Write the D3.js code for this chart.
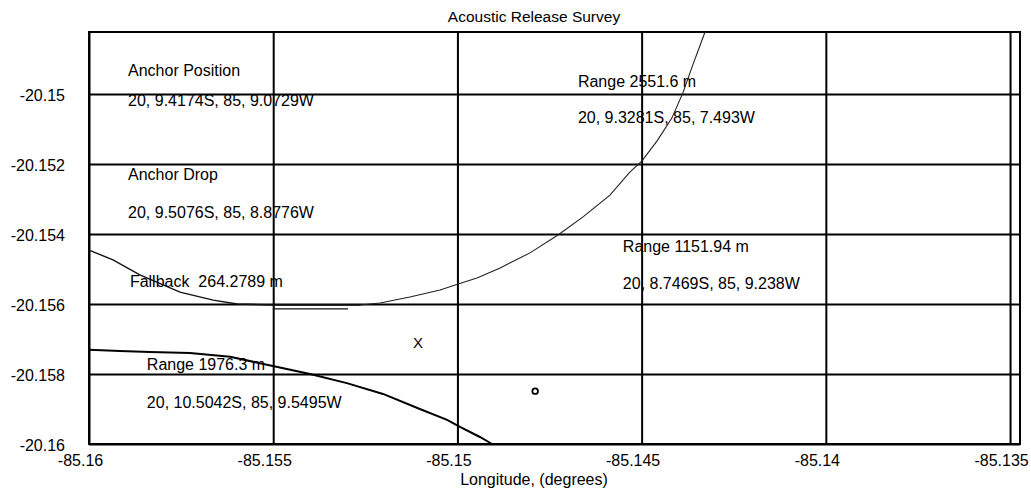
<!DOCTYPE html>
<html>
<head>
<meta charset="utf-8">
<script src="https://cdn.jsdelivr.net/npm/d3@7"></script>
<style>
  html, body { margin: 0; padding: 0; background: #fff; }
  svg { display: block; font-family: "Liberation Sans", Arial, Helvetica, sans-serif; }
</style>
</head>
<body>
<div id="chart"></div>
<script>
// ---------- data ----------
const title = "Acoustic Release Survey";
const xAxisLabel = "Longitude, (degrees)";

const xTicks = [-85.16, -85.155, -85.15, -85.145, -85.14, -85.135];
const xTickLabels = ["-85.16", "-85.155", "-85.15", "-85.145", "-85.14", "-85.135"];
const yTicks = [-20.15, -20.152, -20.154, -20.156, -20.158, -20.16];
const yTickLabels = ["-20.15", "-20.152", "-20.154", "-20.156", "-20.158", "-20.16"];

const xDomain = [-85.16, -85.13473];
const yDomain = [-20.16, -20.14823];

// Fallback curve (left branch of the ring)
const fallbackLon = [-85.16000, -85.15935, -85.15862, -85.15753, -85.15663, -85.15598, -85.15501, -85.15346, -85.15264];
const fallbackLat = [-20.15446, -20.15474, -20.15517, -20.15566, -20.15589, -20.15600, -20.15603, -20.15603, -20.15603];

// Range 2551.6 m arc
const range2551Lon = [-85.15264, -85.15210, -85.15129, -85.15047, -85.14998, -85.14947, -85.14884, -85.14803, -85.14727, -85.14659, -85.14586, -85.14532, -85.14499, -85.14458, -85.14418, -85.14388, -85.14361, -85.14328];
const range2551Lat = [-20.15603, -20.15597, -20.15580, -20.15560, -20.15543, -20.15526, -20.15497, -20.15454, -20.15403, -20.15351, -20.15289, -20.15223, -20.15191, -20.15134, -20.15069, -20.14997, -20.14917, -20.14823];

// short fallback segment
const fallbackSegLon = [-85.15501, -85.15297];
const fallbackSegLat = [-20.15614, -20.15614];

// Range 1976.3 m arc
const range1976Lon = [-85.16000, -85.15916, -85.15834, -85.15726, -85.15617, -85.15501, -85.15400, -85.15300, -85.15202, -85.15102, -85.15028, -85.14993, -85.14939, -85.14906];
const range1976Lat = [-20.15731, -20.15734, -20.15737, -20.15740, -20.15751, -20.15777, -20.15800, -20.15826, -20.15857, -20.15900, -20.15931, -20.15951, -20.15980, -20.16000];

// point markers
const crossMark = { lon: -85.15107, lat: -20.15709, label: "X" };
const ringMark = { lon: -85.14789, lat: -20.15849 };

// annotations (anchored at data coordinates: left edge / baseline)
const annotationTexts = [
  "Anchor Position",
  "20, 9.4174S, 85, 9.0729W",
  "Anchor Drop",
  "20, 9.5076S, 85, 8.8776W",
  "Range 2551.6 m",
  "20, 9.3281S, 85, 7.493W",
  "Range 1151.94 m",
  "20, 8.7469S, 85, 9.238W",
  "Fallback  264.2789 m",
  "Range 1976.3 m",
  "20, 10.5042S, 85, 9.5495W"
];
const annotationLon = [-85.15894, -85.15894, -85.15894, -85.15894, -85.14673, -85.14673, -85.14551, -85.14551, -85.15889, -85.15843, -85.15843];
const annotationLat = [-20.14949, -20.15034, -20.15246, -20.15354, -20.14980, -20.15083, -20.15451, -20.15557, -20.15551, -20.15789, -20.15897];

// ---------- chart ----------
const W = 1031, H = 497;
const mLeft = 89, mRight = 1020, mTop = 32, mBottom = 444;

const svg = d3.select("#chart").append("svg")
  .attr("width", W).attr("height", H)
  .attr("viewBox", `0 0 ${W} ${H}`);

svg.append("rect").attr("width", W).attr("height", H).attr("fill", "#fff");

const x = d3.scaleLinear().domain(xDomain).range([mLeft, mRight]);
const y = d3.scaleLinear().domain(yDomain).range([mBottom, mTop]);

// annotations first (grid lines and curves drawn over them, as in the original)
svg.append("g").selectAll("text")
  .data(annotationTexts)
  .join("text")
  .attr("x", (d, i) => x(annotationLon[i]))
  .attr("y", (d, i) => y(annotationLat[i]))
  .attr("font-size", 16)
  .attr("fill", "#000")
  .style("white-space", "pre")
  .text(d => d);

// x axis with grid
const gx = svg.append("g")
  .attr("transform", `translate(0,${mBottom})`)
  .call(d3.axisBottom(x)
    .tickValues(xTicks)
    .tickSize(-(mBottom - mTop))
    .tickPadding(11)
    .tickFormat((d, i) => xTickLabels[i]));
gx.select(".domain").remove();
gx.selectAll(".tick line").attr("stroke", "#000").attr("stroke-width", 2);
gx.selectAll(".tick text")
  .attr("font-size", 16)
  .attr("font-family", "Liberation Sans, Arial, sans-serif")
  .attr("fill", "#000")
  .attr("dx", -9);

// y axis with grid
const gy = svg.append("g")
  .attr("transform", `translate(${mLeft},0)`)
  .call(d3.axisLeft(y)
    .tickValues(yTicks)
    .tickSize(-(mRight - mLeft))
    .tickPadding(24)
    .tickFormat((d, i) => yTickLabels[i]));
gy.select(".domain").remove();
gy.selectAll(".tick line").attr("stroke", "#000").attr("stroke-width", 2);
gy.selectAll(".tick text")
  .attr("font-size", 16)
  .attr("font-family", "Liberation Sans, Arial, sans-serif")
  .attr("fill", "#000")
  .attr("dy", "0.38em");

// frame
svg.append("rect")
  .attr("x", mLeft).attr("y", mTop)
  .attr("width", mRight - mLeft).attr("height", mBottom - mTop)
  .attr("fill", "none").attr("stroke", "#000").attr("stroke-width", 2);

// curves
const line = d3.line().x(d => x(d[0])).y(d => y(d[1]));
const zip = (a, b) => a.map((v, i) => [v, b[i]]);

svg.append("path")
  .attr("d", line(zip(fallbackLon, fallbackLat)))
  .attr("fill", "none").attr("stroke", "#111").attr("stroke-width", 1.4);

svg.append("path")
  .attr("d", line(zip(range2551Lon, range2551Lat)))
  .attr("fill", "none").attr("stroke", "#222").attr("stroke-width", 1.1);

svg.append("path")
  .attr("d", line(zip(fallbackSegLon, fallbackSegLat)))
  .attr("fill", "none").attr("stroke", "#111").attr("stroke-width", 1.4);

svg.append("path")
  .attr("d", line(zip(range1976Lon, range1976Lat)))
  .attr("fill", "none").attr("stroke", "#000").attr("stroke-width", 2);

// markers
svg.append("text")
  .attr("x", x(crossMark.lon)).attr("y", y(crossMark.lat))
  .attr("dy", "0.36em")
  .attr("text-anchor", "middle")
  .attr("font-size", 15)
  .attr("fill", "#000")
  .text(crossMark.label);

svg.append("circle")
  .attr("cx", x(ringMark.lon)).attr("cy", y(ringMark.lat))
  .attr("r", 2.8)
  .attr("fill", "none").attr("stroke", "#000").attr("stroke-width", 1.8);

// title & axis label
svg.append("text")
  .attr("x", 534).attr("y", 22)
  .attr("text-anchor", "middle")
  .attr("font-size", 15.5)
  .attr("fill", "#000")
  .text(title);

svg.append("text")
  .attr("x", 534).attr("y", 485)
  .attr("text-anchor", "middle")
  .attr("font-size", 16)
  .attr("fill", "#000")
  .text(xAxisLabel);
</script>
</body>
</html>
